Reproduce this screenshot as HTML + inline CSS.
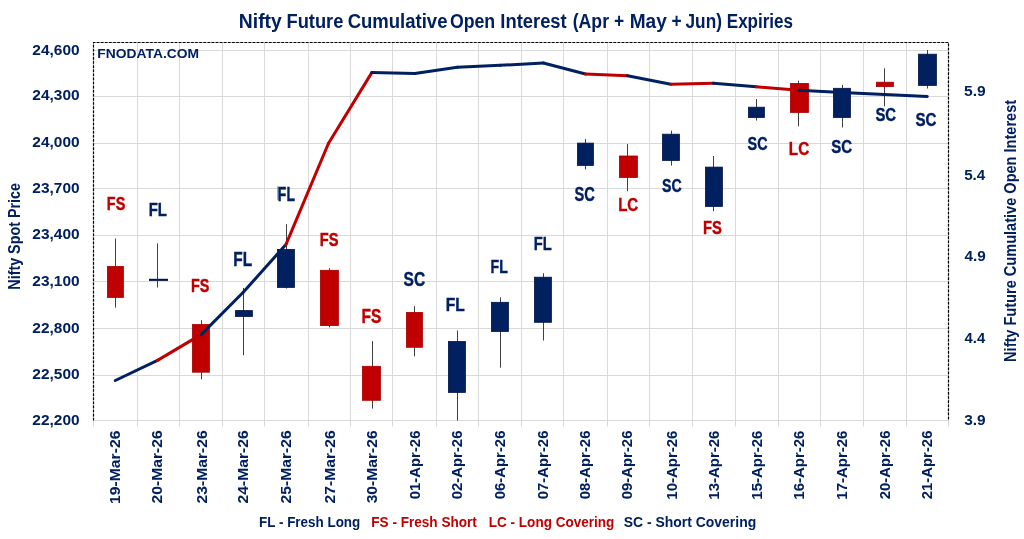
<!DOCTYPE html><html><head><meta charset="utf-8"><title>Nifty Future Cumulative Open Interest</title>
<style>html,body{margin:0;padding:0;background:#fff;width:1024px;height:539px;overflow:hidden}svg{display:block}text{font-family:'Liberation Sans', Arial, sans-serif;font-weight:bold}</style></head><body>
<svg width="1024" height="539" viewBox="0 0 1024 539">
<rect width="1024" height="539" fill="#fff"/>
<path d="M93.5 50.5H948.5M93.5 96.5H948.5M93.5 143.5H948.5M93.5 188.5H948.5M93.5 235.5H948.5M93.5 281.5H948.5M93.5 328.5H948.5M93.5 375.5H948.5M137.5 43.0V420.5M179.5 43.0V420.5M222.5 43.0V420.5M264.5 43.0V420.5M308.5 43.0V420.5M350.5 43.0V420.5M392.5 43.0V420.5M436.5 43.0V420.5M478.5 43.0V420.5M521.5 43.0V420.5M563.5 43.0V420.5M607.5 43.0V420.5M649.5 43.0V420.5M692.5 43.0V420.5M735.5 43.0V420.5M778.5 43.0V420.5M820.5 43.0V420.5M863.5 43.0V420.5M906.5 43.0V420.5" stroke="#D9D9D9" stroke-width="1" fill="none"/>
<path d="M93.5 420.5H948.5M93.5 420.5V426.5M137.5 420.5V426.5M179.5 420.5V426.5M222.5 420.5V426.5M264.5 420.5V426.5M308.5 420.5V426.5M350.5 420.5V426.5M392.5 420.5V426.5M436.5 420.5V426.5M478.5 420.5V426.5M521.5 420.5V426.5M563.5 420.5V426.5M607.5 420.5V426.5M649.5 420.5V426.5M692.5 420.5V426.5M735.5 420.5V426.5M778.5 420.5V426.5M820.5 420.5V426.5M863.5 420.5V426.5M906.5 420.5V426.5M948.5 420.5V426.5" stroke="#D9D9D9" stroke-width="1" fill="none"/>
<path d="M93.5 420.5V42.5H948.5V420.5" stroke="#B4B4B4" stroke-width="1.1" fill="none"/>
<path d="M93.5 420.5V42.5H948.5V420.5" stroke="#000" stroke-width="1.2" stroke-dasharray="2.6 1.5" fill="none"/>
<text x="97.38" y="58.19" font-size="12.00" fill="#002060" textLength="101.67" lengthAdjust="spacingAndGlyphs">FNODATA.COM</text>
<line x1="115.5" y1="238.5" x2="115.5" y2="307.6" stroke="#404040" stroke-width="1"/>
<line x1="157.5" y1="243.4" x2="157.5" y2="287.5" stroke="#404040" stroke-width="1"/>
<line x1="201.5" y1="320.2" x2="201.5" y2="379.3" stroke="#404040" stroke-width="1"/>
<line x1="243.5" y1="287.9" x2="243.5" y2="355.2" stroke="#404040" stroke-width="1"/>
<line x1="286.5" y1="224.2" x2="286.5" y2="288.6" stroke="#404040" stroke-width="1"/>
<line x1="329.5" y1="268.3" x2="329.5" y2="327.4" stroke="#404040" stroke-width="1"/>
<line x1="372.5" y1="341.2" x2="372.5" y2="408.7" stroke="#404040" stroke-width="1"/>
<line x1="414.5" y1="306.2" x2="414.5" y2="356.4" stroke="#404040" stroke-width="1"/>
<line x1="457.5" y1="330.4" x2="457.5" y2="420.6" stroke="#404040" stroke-width="1"/>
<line x1="500.5" y1="297.3" x2="500.5" y2="367.7" stroke="#404040" stroke-width="1"/>
<line x1="543.5" y1="273.2" x2="543.5" y2="340.5" stroke="#404040" stroke-width="1"/>
<line x1="585.5" y1="139.1" x2="585.5" y2="169.4" stroke="#404040" stroke-width="1"/>
<line x1="627.5" y1="144.0" x2="627.5" y2="191.2" stroke="#404040" stroke-width="1"/>
<line x1="671.5" y1="130.7" x2="671.5" y2="165.6" stroke="#404040" stroke-width="1"/>
<line x1="713.5" y1="156.0" x2="713.5" y2="211.2" stroke="#404040" stroke-width="1"/>
<line x1="756.5" y1="99.0" x2="756.5" y2="120.6" stroke="#404040" stroke-width="1"/>
<line x1="798.5" y1="80.7" x2="798.5" y2="126.4" stroke="#404040" stroke-width="1"/>
<line x1="842.5" y1="85.0" x2="842.5" y2="127.5" stroke="#404040" stroke-width="1"/>
<line x1="884.5" y1="68.3" x2="884.5" y2="106.3" stroke="#404040" stroke-width="1"/>
<line x1="927.5" y1="50.0" x2="927.5" y2="88.5" stroke="#404040" stroke-width="1"/>
<rect x="107.4" y="266.40" width="16" height="31.10" fill="#C00000" stroke="#A80000" stroke-width="0.8"/>
<rect x="149.0" y="278.8" width="19" height="2.1" fill="#001650"/>
<line x1="157.5" y1="278.8" x2="157.5" y2="280.9" stroke="#404040" stroke-width="1" opacity="0.6"/>
<rect x="192.4" y="324.50" width="17" height="47.70" fill="#C00000" stroke="#A80000" stroke-width="0.8"/>
<rect x="235.4" y="310.60" width="17" height="5.90" fill="#002060" stroke="#001448" stroke-width="0.8"/>
<rect x="277.4" y="249.40" width="17" height="38.00" fill="#002060" stroke="#001448" stroke-width="0.8"/>
<rect x="320.4" y="270.30" width="18" height="55.30" fill="#C00000" stroke="#A80000" stroke-width="0.8"/>
<rect x="362.4" y="366.30" width="18" height="34.00" fill="#C00000" stroke="#A80000" stroke-width="0.8"/>
<rect x="406.4" y="312.40" width="16" height="34.90" fill="#C00000" stroke="#A80000" stroke-width="0.8"/>
<rect x="448.4" y="341.50" width="17" height="50.90" fill="#002060" stroke="#001448" stroke-width="0.8"/>
<rect x="491.4" y="302.30" width="17" height="29.20" fill="#002060" stroke="#001448" stroke-width="0.8"/>
<rect x="534.4" y="277.20" width="17" height="45.10" fill="#002060" stroke="#001448" stroke-width="0.8"/>
<rect x="577.4" y="143.10" width="16" height="22.30" fill="#002060" stroke="#001448" stroke-width="0.8"/>
<rect x="619.4" y="156.00" width="18" height="21.50" fill="#C00000" stroke="#A80000" stroke-width="0.8"/>
<rect x="662.4" y="134.20" width="17" height="26.30" fill="#002060" stroke="#001448" stroke-width="0.8"/>
<rect x="705.4" y="167.10" width="17" height="39.30" fill="#002060" stroke="#001448" stroke-width="0.8"/>
<rect x="748.4" y="107.20" width="16" height="10.30" fill="#002060" stroke="#001448" stroke-width="0.8"/>
<rect x="790.4" y="83.40" width="18" height="29.00" fill="#C00000" stroke="#A80000" stroke-width="0.8"/>
<rect x="833.4" y="88.30" width="17" height="29.20" fill="#002060" stroke="#001448" stroke-width="0.8"/>
<rect x="876.4" y="82.20" width="17" height="4.40" fill="#C00000" stroke="#A80000" stroke-width="0.8"/>
<rect x="918.4" y="54.20" width="18" height="31.20" fill="#002060" stroke="#001448" stroke-width="0.8"/>
<text stroke="#C00000" stroke-width="0.4" x="106.86" y="209.58" font-size="18.56" fill="#C00000" textLength="18.44" lengthAdjust="spacingAndGlyphs">FS</text>
<text stroke="#002060" stroke-width="0.4" x="148.71" y="216.43" font-size="18.42" fill="#002060" textLength="18.21" lengthAdjust="spacingAndGlyphs">FL</text>
<text stroke="#C00000" stroke-width="0.4" x="190.93" y="292.39" font-size="19.14" fill="#C00000" textLength="18.35" lengthAdjust="spacingAndGlyphs">FS</text>
<text stroke="#002060" stroke-width="0.4" x="233.37" y="265.61" font-size="19.78" fill="#002060" textLength="18.90" lengthAdjust="spacingAndGlyphs">FL</text>
<text stroke="#002060" stroke-width="0.4" x="277.86" y="200.66" font-size="19.71" fill="#002060" textLength="17.07" lengthAdjust="spacingAndGlyphs">FL</text>
<text stroke="#C00000" stroke-width="0.4" x="319.81" y="246.16" font-size="17.55" fill="#C00000" textLength="18.71" lengthAdjust="spacingAndGlyphs">FS</text>
<text stroke="#C00000" stroke-width="0.4" x="361.44" y="323.41" font-size="19.86" fill="#C00000" textLength="19.80" lengthAdjust="spacingAndGlyphs">FS</text>
<text stroke="#002060" stroke-width="0.4" x="403.55" y="286.25" font-size="20.00" fill="#002060" textLength="21.58" lengthAdjust="spacingAndGlyphs">SC</text>
<text stroke="#002060" stroke-width="0.4" x="445.71" y="311.43" font-size="18.56" fill="#002060" textLength="19.06" lengthAdjust="spacingAndGlyphs">FL</text>
<text stroke="#002060" stroke-width="0.4" x="490.62" y="272.53" font-size="18.56" fill="#002060" textLength="17.23" lengthAdjust="spacingAndGlyphs">FL</text>
<text stroke="#002060" stroke-width="0.4" x="533.75" y="250.43" font-size="18.42" fill="#002060" textLength="17.97" lengthAdjust="spacingAndGlyphs">FL</text>
<text stroke="#002060" stroke-width="0.4" x="574.60" y="200.76" font-size="19.86" fill="#002060" textLength="20.32" lengthAdjust="spacingAndGlyphs">SC</text>
<text stroke="#C00000" stroke-width="0.4" x="618.18" y="211.38" font-size="18.56" fill="#C00000" textLength="20.08" lengthAdjust="spacingAndGlyphs">LC</text>
<text stroke="#002060" stroke-width="0.4" x="661.95" y="192.45" font-size="19.14" fill="#002060" textLength="19.66" lengthAdjust="spacingAndGlyphs">SC</text>
<text stroke="#C00000" stroke-width="0.4" x="702.96" y="233.59" font-size="19.14" fill="#C00000" textLength="18.80" lengthAdjust="spacingAndGlyphs">FS</text>
<text stroke="#002060" stroke-width="0.4" x="747.59" y="149.62" font-size="18.56" fill="#002060" textLength="19.90" lengthAdjust="spacingAndGlyphs">SC</text>
<text stroke="#C00000" stroke-width="0.4" x="788.85" y="154.68" font-size="18.27" fill="#C00000" textLength="20.29" lengthAdjust="spacingAndGlyphs">LC</text>
<text stroke="#002060" stroke-width="0.4" x="831.33" y="153.24" font-size="18.56" fill="#002060" textLength="20.79" lengthAdjust="spacingAndGlyphs">SC</text>
<text stroke="#002060" stroke-width="0.4" x="875.42" y="121.23" font-size="18.27" fill="#002060" textLength="20.61" lengthAdjust="spacingAndGlyphs">SC</text>
<text stroke="#002060" stroke-width="0.4" x="915.38" y="125.62" font-size="18.27" fill="#002060" textLength="20.97" lengthAdjust="spacingAndGlyphs">SC</text>
<rect x="277.2" y="186.2" width="1.5" height="13.6" fill="#002060" opacity="0.45"/>
<line x1="115.3" y1="380.5" x2="157.5" y2="360.4" stroke="#002060" stroke-width="3" stroke-linecap="round"/>
<line x1="157.5" y1="360.4" x2="201.4" y2="334.4" stroke="#C00000" stroke-width="3" stroke-linecap="round"/>
<line x1="201.4" y1="334.4" x2="243.5" y2="292.0" stroke="#002060" stroke-width="3" stroke-linecap="round"/>
<line x1="243.5" y1="292.0" x2="285.9" y2="244.6" stroke="#002060" stroke-width="3" stroke-linecap="round"/>
<line x1="285.9" y1="244.6" x2="328.4" y2="143.5" stroke="#C00000" stroke-width="3" stroke-linecap="round"/>
<line x1="328.4" y1="143.5" x2="371.8" y2="72.6" stroke="#C00000" stroke-width="3" stroke-linecap="round"/>
<line x1="371.8" y1="72.6" x2="414.8" y2="73.6" stroke="#002060" stroke-width="3" stroke-linecap="round"/>
<line x1="414.8" y1="73.6" x2="457.3" y2="67.3" stroke="#002060" stroke-width="3" stroke-linecap="round"/>
<line x1="457.3" y1="67.3" x2="500.2" y2="65.3" stroke="#002060" stroke-width="3" stroke-linecap="round"/>
<line x1="500.2" y1="65.3" x2="543.3" y2="63.0" stroke="#002060" stroke-width="3" stroke-linecap="round"/>
<line x1="543.3" y1="63.0" x2="585.5" y2="74.0" stroke="#002060" stroke-width="3" stroke-linecap="round"/>
<line x1="585.5" y1="74.0" x2="627.5" y2="75.7" stroke="#C00000" stroke-width="3" stroke-linecap="round"/>
<line x1="627.5" y1="75.7" x2="670.8" y2="84.3" stroke="#002060" stroke-width="3" stroke-linecap="round"/>
<line x1="670.8" y1="84.3" x2="713.4" y2="83.2" stroke="#C00000" stroke-width="3" stroke-linecap="round"/>
<line x1="713.4" y1="83.2" x2="756.2" y2="86.8" stroke="#002060" stroke-width="3" stroke-linecap="round"/>
<line x1="756.2" y1="86.8" x2="798.9" y2="90.2" stroke="#C00000" stroke-width="3" stroke-linecap="round"/>
<line x1="798.9" y1="90.2" x2="842.0" y2="92.4" stroke="#002060" stroke-width="3" stroke-linecap="round"/>
<line x1="842.0" y1="92.4" x2="884.6" y2="94.4" stroke="#002060" stroke-width="3" stroke-linecap="round"/>
<line x1="884.6" y1="94.4" x2="927.3" y2="96.4" stroke="#002060" stroke-width="3" stroke-linecap="round"/>
<text x="238.83" y="27.80" font-size="20.00" fill="#002060" textLength="42.91" lengthAdjust="spacingAndGlyphs">Nifty</text>
<text x="286.49" y="27.80" font-size="20.00" fill="#002060" textLength="56.88" lengthAdjust="spacingAndGlyphs">Future</text>
<text x="347.65" y="27.80" font-size="20.00" fill="#002060" textLength="99.82" lengthAdjust="spacingAndGlyphs">Cumulative</text>
<text x="449.89" y="27.80" font-size="20.00" fill="#002060" textLength="45.27" lengthAdjust="spacingAndGlyphs">Open</text>
<text x="500.37" y="27.80" font-size="20.00" fill="#002060" textLength="66.34" lengthAdjust="spacingAndGlyphs">Interest</text>
<text x="572.65" y="27.80" font-size="20.00" fill="#002060" textLength="36.41" lengthAdjust="spacingAndGlyphs">(Apr</text>
<text x="614.02" y="27.80" font-size="20.00" fill="#002060" textLength="10.13" lengthAdjust="spacingAndGlyphs">+</text>
<text x="629.69" y="27.80" font-size="20.00" fill="#002060" textLength="37.03" lengthAdjust="spacingAndGlyphs">May</text>
<text x="671.55" y="27.80" font-size="20.00" fill="#002060" textLength="10.13" lengthAdjust="spacingAndGlyphs">+</text>
<text x="685.55" y="27.80" font-size="20.00" fill="#002060" textLength="36.32" lengthAdjust="spacingAndGlyphs">Jun)</text>
<text x="726.77" y="27.80" font-size="20.00" fill="#002060" textLength="66.28" lengthAdjust="spacingAndGlyphs">Expiries</text>
<text x="32.39" y="54.65" font-size="14.60" fill="#002060" textLength="47.25" lengthAdjust="spacingAndGlyphs">24,600</text>
<text x="32.39" y="100.35" font-size="14.60" fill="#002060" textLength="47.25" lengthAdjust="spacingAndGlyphs">24,300</text>
<text x="32.39" y="147.35" font-size="14.60" fill="#002060" textLength="47.25" lengthAdjust="spacingAndGlyphs">24,000</text>
<text x="32.39" y="192.65" font-size="14.60" fill="#002060" textLength="47.25" lengthAdjust="spacingAndGlyphs">23,700</text>
<text x="32.39" y="239.35" font-size="14.60" fill="#002060" textLength="47.25" lengthAdjust="spacingAndGlyphs">23,400</text>
<text x="32.39" y="285.75" font-size="14.60" fill="#002060" textLength="47.25" lengthAdjust="spacingAndGlyphs">23,100</text>
<text x="32.39" y="332.65" font-size="14.60" fill="#002060" textLength="47.25" lengthAdjust="spacingAndGlyphs">22,800</text>
<text x="32.39" y="379.35" font-size="14.60" fill="#002060" textLength="47.25" lengthAdjust="spacingAndGlyphs">22,500</text>
<text x="32.39" y="424.75" font-size="14.60" fill="#002060" textLength="47.25" lengthAdjust="spacingAndGlyphs">22,200</text>
<text x="964.11" y="95.68" font-size="13.80" fill="#002060" textLength="21.68" lengthAdjust="spacingAndGlyphs">5.9</text>
<text x="964.18" y="179.58" font-size="13.80" fill="#002060" textLength="21.12" lengthAdjust="spacingAndGlyphs">5.4</text>
<text x="964.48" y="260.58" font-size="13.80" fill="#002060" textLength="21.32" lengthAdjust="spacingAndGlyphs">4.9</text>
<text x="964.57" y="343.48" font-size="13.80" fill="#002060" textLength="20.60" lengthAdjust="spacingAndGlyphs">4.4</text>
<text x="964.16" y="424.88" font-size="13.80" fill="#002060" textLength="21.46" lengthAdjust="spacingAndGlyphs">3.9</text>
<text transform="translate(120.20 503.95) rotate(-90)" font-size="13.80" fill="#002060" textLength="73.33" lengthAdjust="spacingAndGlyphs">19-Mar-26</text>
<text transform="translate(162.20 503.51) rotate(-90)" font-size="13.80" fill="#002060" textLength="73.14" lengthAdjust="spacingAndGlyphs">20-Mar-26</text>
<text transform="translate(206.60 503.51) rotate(-90)" font-size="13.80" fill="#002060" textLength="73.14" lengthAdjust="spacingAndGlyphs">23-Mar-26</text>
<text transform="translate(248.20 503.51) rotate(-90)" font-size="13.80" fill="#002060" textLength="73.14" lengthAdjust="spacingAndGlyphs">24-Mar-26</text>
<text transform="translate(291.40 503.51) rotate(-90)" font-size="13.80" fill="#002060" textLength="73.14" lengthAdjust="spacingAndGlyphs">25-Mar-26</text>
<text transform="translate(334.60 503.51) rotate(-90)" font-size="13.80" fill="#002060" textLength="73.14" lengthAdjust="spacingAndGlyphs">27-Mar-26</text>
<text transform="translate(377.40 503.35) rotate(-90)" font-size="13.80" fill="#002060" textLength="72.93" lengthAdjust="spacingAndGlyphs">30-Mar-26</text>
<text transform="translate(419.60 499.22) rotate(-90)" font-size="13.80" fill="#002060" textLength="68.64" lengthAdjust="spacingAndGlyphs">01-Apr-26</text>
<text transform="translate(462.40 499.22) rotate(-90)" font-size="13.80" fill="#002060" textLength="68.64" lengthAdjust="spacingAndGlyphs">02-Apr-26</text>
<text transform="translate(505.00 499.22) rotate(-90)" font-size="13.80" fill="#002060" textLength="68.64" lengthAdjust="spacingAndGlyphs">06-Apr-26</text>
<text transform="translate(548.40 499.22) rotate(-90)" font-size="13.80" fill="#002060" textLength="68.64" lengthAdjust="spacingAndGlyphs">07-Apr-26</text>
<text transform="translate(590.20 499.22) rotate(-90)" font-size="13.80" fill="#002060" textLength="68.64" lengthAdjust="spacingAndGlyphs">08-Apr-26</text>
<text transform="translate(632.20 499.22) rotate(-90)" font-size="13.80" fill="#002060" textLength="68.64" lengthAdjust="spacingAndGlyphs">09-Apr-26</text>
<text transform="translate(676.80 499.67) rotate(-90)" font-size="13.80" fill="#002060" textLength="69.09" lengthAdjust="spacingAndGlyphs">10-Apr-26</text>
<text transform="translate(718.80 499.67) rotate(-90)" font-size="13.80" fill="#002060" textLength="69.09" lengthAdjust="spacingAndGlyphs">13-Apr-26</text>
<text transform="translate(761.80 499.67) rotate(-90)" font-size="13.80" fill="#002060" textLength="69.09" lengthAdjust="spacingAndGlyphs">15-Apr-26</text>
<text transform="translate(803.80 499.67) rotate(-90)" font-size="13.80" fill="#002060" textLength="69.09" lengthAdjust="spacingAndGlyphs">16-Apr-26</text>
<text transform="translate(847.20 499.67) rotate(-90)" font-size="13.80" fill="#002060" textLength="69.09" lengthAdjust="spacingAndGlyphs">17-Apr-26</text>
<text transform="translate(889.60 499.24) rotate(-90)" font-size="13.80" fill="#002060" textLength="68.66" lengthAdjust="spacingAndGlyphs">20-Apr-26</text>
<text transform="translate(932.20 499.24) rotate(-90)" font-size="13.80" fill="#002060" textLength="68.66" lengthAdjust="spacingAndGlyphs">21-Apr-26</text>
<text transform="translate(20.20 289.64) rotate(-90)" font-size="16.00" fill="#002060" textLength="106.52" lengthAdjust="spacingAndGlyphs">Nifty Spot Price</text>
<text transform="translate(1016.20 361.91) rotate(-90)" font-size="16.00" fill="#002060" textLength="262.05" lengthAdjust="spacingAndGlyphs">Nifty Future Cumulative Open Interest</text>
<text x="259.09" y="526.63" font-size="15.40" fill="#002060" textLength="101.18" lengthAdjust="spacingAndGlyphs">FL - Fresh Long</text>
<text x="371.27" y="526.63" font-size="15.40" fill="#C00000" textLength="105.58" lengthAdjust="spacingAndGlyphs">FS - Fresh Short</text>
<text x="488.83" y="526.63" font-size="15.40" fill="#C00000" textLength="125.42" lengthAdjust="spacingAndGlyphs">LC - Long Covering</text>
<text x="623.72" y="526.63" font-size="15.40" fill="#002060" textLength="132.47" lengthAdjust="spacingAndGlyphs">SC - Short Covering</text>
</svg></body></html>
